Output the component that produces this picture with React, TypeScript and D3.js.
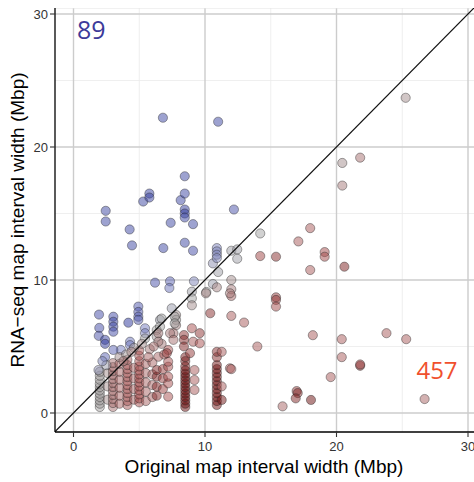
import React from "react";
import * as d3 from "d3";

type P = [number, number, number]; // [original width, RNA-seq width, tone -1 blue .. 1 dark red]

const xTicks = [0, 10, 20, 30];
const yTicks = [0, 10, 20, 30];
const minorTicks = [5, 15, 25];
const countAbove = "89";
const countBelow = "457";
const xTitle = "Original map interval width (Mbp)";
const yTitle = "RNA\u2212seq map interval width (Mbp)";

const upperPoints: P[] = [
  [6.8, 22.2, -0.85], [11.0, 21.9, -0.85], [2.45, 15.2, -0.85], [2.45, 14.4, -0.85],
  [4.27, 13.8, -0.85], [4.45, 12.6, -0.85], [5.3, 15.9, -0.85], [5.77, 16.5, -0.9],
  [5.77, 16.2, -0.9], [6.83, 12.4, -0.85], [7.39, 14.3, -0.85], [8.15, 16.0, -0.85],
  [8.46, 17.8, -0.85], [8.46, 16.5, -0.85], [8.46, 15.3, -0.95], [8.46, 15.0, -0.95],
  [8.46, 14.7, -0.85], [9.09, 14.2, -0.85], [8.46, 12.8, -0.85], [9.09, 12.2, -0.8],
  [12.2, 15.3, -0.75], [6.2, 9.8, -0.75], [7.34, 9.9, -0.6], [7.29, 9.4, -0.45],
  [9.16, 9.9, -0.3], [10.9, 12.4, -0.35], [10.9, 12.15, -0.3], [10.9, 11.9, -0.3],
  [10.9, 11.65, -0.3],
];

const midPoints: P[] = [
  [1.94, 7.4, -0.8], [1.96, 6.4, -0.8], [1.92, 5.8, -0.75],
  [3.03, 7.24, -0.8], [3.03, 6.86, -0.85], [3.03, 6.49, -0.85], [3.03, 6.11, -0.8],
  [4.17, 6.79, -1], [4.93, 8.0, -0.7], [4.93, 7.6, -0.7], [4.93, 7.24, -0.7], [4.93, 7.0, -0.65],
  [5.44, 6.37, -0.4], [5.44, 6.0, -0.35], [4.3, 5.36, -0.45], [4.3, 5.1, -0.4],
  [3.6, 4.74, -0.4], [3.03, 4.74, -0.6], [2.4, 5.5, -0.9], [2.4, 5.2, -0.95], [2.4, 4.2, -0.6],
  [1.9, 3.23, -0.2], [6.58, 7.0, -0.1], [9.0, 9.12, -0.05], [9.0, 8.62, 0], [9.0, 8.1, 0.1],
  [7.8, 7.37, 0.1], [7.8, 7.0, 0.05], [7.8, 6.6, 0.15], [7.6, 6.0, 0.25], [6.7, 5.2, 0.2],
  [6.33, 6.24, 0], [6.33, 5.74, 0.05], [5.44, 5.6, 0], [7.47, 7.87, -0.1], [7.7, 7.24, 0],
  [7.7, 6.74, 0], [6.58, 6.5, 0], [6.45, 6.0, 0.2], [6.45, 5.36, 0.2], [7.34, 6.0, 0.2],
  [7.6, 5.5, 0.25], [10.6, 11.25, -0.2], [11.0, 10.6, -0.05], [12.0, 12.2, -0.05],
  [12.45, 12.3, -0.05], [12.45, 11.6, -0.05], [14.2, 13.5, 0], [10.6, 9.7, -0.1],
  [10.9, 9.45, 0.15], [10.1, 9.1, 0], [12.0, 10.0, 0.1], [12.0, 9.3, 0.2], [12.0, 8.8, 0.3],
  [6.7, 7.1, 0], [3.5, 4.2, 0.1], [4.0, 4.4, 0.05], [4.6, 4.9, 0.05], [5.2, 5.2, 0.1],
  [5.8, 4.8, 0.2], [6.1, 5.0, 0.25], [3.8, 3.9, 0.2], [4.4, 4.6, 0.15], [5.7, 4.2, 0.3],
  [6.9, 4.4, 0.35], [2.5, 3.6, -0.1], [2.2, 3.9, -0.3],
];

const lowerPoints: P[] = [
  [17.1, 12.9, 0.35], [18.0, 13.9, 0.35], [19.1, 12.1, 0.45], [19.1, 11.75, 0.45],
  [18.0, 10.75, 0.35], [20.6, 11.0, 0.8], [14.2, 11.8, 0.5], [15.4, 11.75, 0.7],
  [15.4, 8.7, 0.6], [15.4, 8.5, 0.6], [15.4, 8.0, 0.45], [12.0, 7.3, 0.35], [12.97, 6.8, 0.35],
  [18.2, 5.85, 0.35], [20.4, 5.55, 0.35], [20.4, 4.2, 0.35], [13.98, 5.0, 0.35], [12.0, 3.3, 0.35],
  [19.56, 2.7, 0.35], [16.97, 1.65, 0.6], [17.05, 1.5, 0.75], [16.9, 1.1, 0.75], [18.06, 0.98, 0.95],
  [15.9, 0.5, 0.3], [23.8, 6.0, 0.35], [25.3, 5.55, 0.35], [21.8, 3.55, 0.8], [21.8, 3.65, 0.5],
  [26.7, 1.05, 0.3], [25.26, 23.7, 0.1], [20.44, 18.8, 0.1], [21.8, 19.2, 0.25], [20.44, 17.1, 0.2],
  [10.4, 7.5, 0.7], [8.4, 5.86, 0.65], [8.4, 5.5, 0.7], [8.4, 5.0, 0.75], [7.1, 4.5, 0.6],
  [9.0, 6.37, 0.4], [9.1, 5.36, 0.35], [9.6, 6.0, 0.65], [9.6, 5.24, 0.4], [10.07, 9.0, 0.15],
  [11.9, 9.0, 0.2], [8.86, 4.5, 0.6],
];

// dense columns near the bottom: x, tone, and the y values read along each column
const stackCols = [
  { x: 2.0, tone: 0.02, ys: [0.45, 0.7, 0.95, 1.2, 1.45, 1.7, 1.95, 2.2, 2.5, 2.8, 3.1] },
  { x: 2.6, tone: 0.1, ys: [1.0, 2.0, 3.0] },
  { x: 3.0, tone: 0.25, ys: [0.45, 0.75, 1.05, 1.35, 1.65, 1.95, 2.25, 2.55, 2.85, 3.15, 3.45, 3.75] },
  { x: 3.5, tone: 0.3, ys: [0.7, 1.3, 1.9, 2.5, 3.1, 3.7] },
  { x: 4.1, tone: 0.35, ys: [0.6, 0.9, 1.2, 1.5, 1.8, 2.1, 2.4, 2.7, 3.0, 3.3, 3.6, 4.0] },
  { x: 4.6, tone: 0.3, ys: [1.0, 1.8, 2.6, 3.4] },
  { x: 5.0, tone: 0.4, ys: [0.8, 1.1, 1.4, 1.7, 2.0, 2.3, 2.6, 2.9, 3.2, 3.5, 3.9, 4.3, 4.7] },
  { x: 5.5, tone: 0.3, ys: [0.9, 1.6, 2.3, 3.0, 3.7] },
  { x: 6.0, tone: 0.3, ys: [1.2, 2.1, 2.9, 3.8] },
  { x: 6.33, tone: 0.75, ys: [1.3, 1.98, 2.73, 3.23] },
  { x: 6.45, tone: 0.3, ys: [4.23] },
  { x: 6.8, tone: 0.55, ys: [1.8, 2.6, 3.3] },
  { x: 7.2, tone: 0.4, ys: [1.23, 2.23, 2.73, 3.48, 3.86, 4.74] },
  { x: 8.5, tone: 0.95, ys: [0.45, 0.7, 0.95, 1.2, 1.45, 1.7, 1.95, 2.2, 2.45, 2.7, 2.95, 3.2] },
  { x: 8.5, tone: 0.85, ys: [3.5, 3.9, 4.2] },
  { x: 9.2, tone: 0.35, ys: [1.73, 2.48, 3.23] },
  { x: 10.9, tone: 0.9, ys: [0.6, 0.9, 1.2, 1.5, 1.8, 2.1, 2.4, 2.7, 3.0, 3.3, 3.6] },
  { x: 10.9, tone: 0.7, ys: [4.2, 4.6] },
  { x: 11.27, tone: 0.9, ys: [0.98] },
  { x: 11.27, tone: 0.35, ys: [2.0, 4.6] },
  { x: 11.9, tone: 0.35, ys: [3.36] },
];

const W = 474;
const H = 482;
const panel = { left: 55, right: 480, top: 8, bottom: 432 };

export default function App() {
  const x = d3.scaleLinear().domain([0, 30]).range([73.5, 468]);
  const y = d3.scaleLinear().domain([0, 30]).range([413, 14]);
  const color = d3
    .scaleLinear<string>()
    .domain([-1, -0.4, 0, 0.4, 1])
    .range(["#2a3399", "#7279bd", "#a3a3a3", "#a84f4f", "#640808"]);

  const stackPoints: P[] = stackCols.flatMap((c) => c.ys.map((v) => [c.x, v, c.tone] as P));
  const allPoints: P[] = [...stackPoints, ...midPoints, ...lowerPoints, ...upperPoints];

  const lineData: [number, number][] = [[-2, -2], [32, 32]];
  const line = d3
    .line<[number, number]>()
    .x((d) => x(d[0]))
    .y((d) => y(d[1]));

  const font = "'Liberation Sans', Arial, Helvetica, sans-serif";

  return (
    <svg width={W} height={H} style={{ position: "absolute", left: 0, top: 0 }} fontFamily={font}>
      <defs>
        <clipPath id="panel">
          <rect x={panel.left} y={panel.top} width={panel.right - panel.left} height={panel.bottom - panel.top} />
        </clipPath>
      </defs>
      <rect x={0} y={0} width={W} height={H} fill="#fff" />
      <g clipPath="url(#panel)">
        {minorTicks.map((t) => (
          <g key={"m" + t}>
            <line x1={x(t)} x2={x(t)} y1={panel.top} y2={panel.bottom} stroke="#ebebeb" strokeWidth={0.8} />
            <line x1={panel.left} x2={panel.right} y1={y(t)} y2={y(t)} stroke="#ebebeb" strokeWidth={0.8} />
          </g>
        ))}
        {xTicks.map((t) => (
          <line key={"gx" + t} x1={x(t)} x2={x(t)} y1={panel.top} y2={panel.bottom} stroke="#cccccc" strokeWidth={1.4} />
        ))}
        {yTicks.map((t) => (
          <line key={"gy" + t} x1={panel.left} x2={panel.right} y1={y(t)} y2={y(t)} stroke="#cccccc" strokeWidth={1.4} />
        ))}
        <line x1={panel.left} x2={panel.right} y1={panel.top} y2={panel.top} stroke="#e3e3e3" strokeWidth={1} />
        {allPoints.map((p, i) => (
          <circle
            key={i}
            cx={x(p[0])}
            cy={y(p[1])}
            r={4.6}
            fill={color(p[2])}
            fillOpacity={0.5}
            stroke="#222"
            strokeOpacity={0.45}
            strokeWidth={0.9}
          />
        ))}
        <path d={line(lineData) || ""} stroke="#111" strokeWidth={1.2} fill="none" />
      </g>
      <line x1={panel.left} x2={panel.left} y1={panel.top} y2={panel.bottom} stroke="#000" strokeWidth={1.3} />
      <line x1={panel.left} x2={panel.right} y1={panel.bottom} y2={panel.bottom} stroke="#000" strokeWidth={1.3} />
      {yTicks.map((t) => (
        <g key={"yt" + t}>
          <line x1={panel.left - 5} x2={panel.left} y1={y(t)} y2={y(t)} stroke="#333" strokeWidth={1.1} />
          <text x={48} y={y(t)} dy="0.36em" textAnchor="end" fontSize={13} fill="#333">
            {t}
          </text>
        </g>
      ))}
      {xTicks.map((t) => (
        <g key={"xt" + t}>
          <line x1={x(t)} x2={x(t)} y1={panel.bottom} y2={panel.bottom + 5} stroke="#333" strokeWidth={1.1} />
          <text x={x(t)} y={451} textAnchor="middle" fontSize={13} fill="#333">
            {t}
          </text>
        </g>
      ))}
      <text x={264} y={473} textAnchor="middle" fontSize={19} fill="#000">
        {xTitle}
      </text>
      <text transform={`translate(24,${220}) rotate(-90)`} textAnchor="middle" fontSize={19} fill="#000">
        {yTitle}
      </text>
      <text x={77} y={39} fontSize={25} fill="#3d3a9a" fontFamily="'Open Sans', 'Noto Sans', sans-serif">
        {countAbove}
      </text>
      <text x={437} y={379} textAnchor="middle" fontSize={24} fill="#f0502e" fontFamily="'Open Sans', 'Noto Sans', sans-serif">
        {countBelow}
      </text>
    </svg>
  );
}
